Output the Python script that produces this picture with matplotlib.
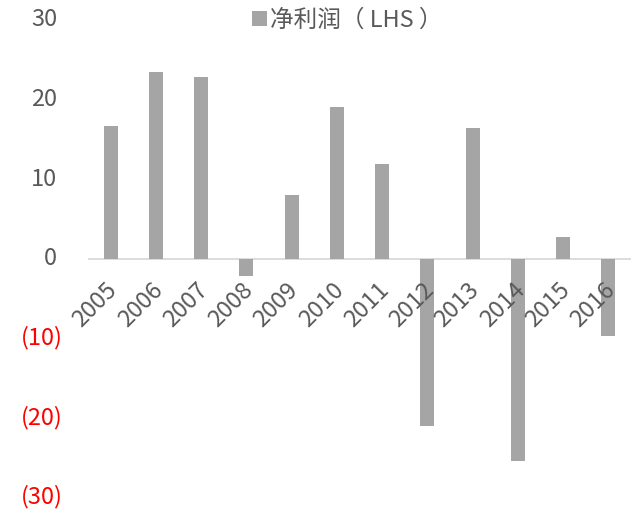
import numpy as np
import matplotlib.pyplot as plt
import matplotlib.transforms as mtransforms
from matplotlib.patches import Patch

plt.rcParams['font.family'] = ['Noto Sans CJK SC', 'DejaVu Sans']

years = ['2005', '2006', '2007', '2008', '2009', '2010',
         '2011', '2012', '2013', '2014', '2015', '2016']
net_profit = [16.7, 23.5, 22.8, -2.2, 8.0, 19.0, 11.9, -21.1, 16.4, -25.5, 2.7, -9.7]
y_ticks = [30, 20, 10, 0, -10, -20, -30]
y_labels = ['30', '20', '10', '0', '(10)', '(20)', '(30)']

text_col = '#595959'
bar_col = '#a5a5a5'
fs = 17

fig = plt.figure(figsize=(6.35, 5.11), dpi=100)
ax = fig.add_axes([88/635, 14/511, 543/635, 477/511])

x = np.arange(len(years))
ax.bar(x, net_profit, width=0.31, color=bar_col, zorder=1)

ax.set_xlim(-0.5, len(years) - 0.5)
ax.set_ylim(-30, 30)

# zero line only, no frame
for s in ['top', 'right', 'left', 'bottom']:
    ax.spines[s].set_visible(False)
ax.axhline(0, color='#d9d9d9', lw=1.3, zorder=0.5)
ax.set_xticks([])
ax.set_yticks([])

# year labels hang off the zero line, rotated 45 degrees
lab_trans = mtransforms.offset_copy(ax.transData, fig=fig, x=-5, y=-20, units='dots')
for i, yr in enumerate(years):
    ax.text(i, 0, yr, transform=lab_trans, rotation=45, rotation_mode='anchor',
            ha='right', va='top', fontsize=fs, color=text_col, zorder=3)

# y labels: negatives in red with parentheses
trans = mtransforms.blended_transform_factory(fig.transFigure, ax.transData)
for v, lab in zip(y_ticks, y_labels):
    if v < 0:
        ax.text(63/635, v, lab, transform=trans, ha='right', va='center',
                fontsize=fs, color='#ff0000')
    else:
        ax.text(57/635, v, lab, transform=trans, ha='right', va='center',
                fontsize=fs, color=text_col)

handle = Patch(facecolor=bar_col, edgecolor='none')
leg = ax.legend([handle], ['净利润（ LHS ）'], loc='center',
                bbox_to_anchor=(0.478, 1.0), frameon=False, fontsize=fs,
                handlelength=0.6, handleheight=0.6, handletextpad=0.15,
                labelcolor=text_col, borderpad=0)

fig.savefig('out.png', dpi=100)
